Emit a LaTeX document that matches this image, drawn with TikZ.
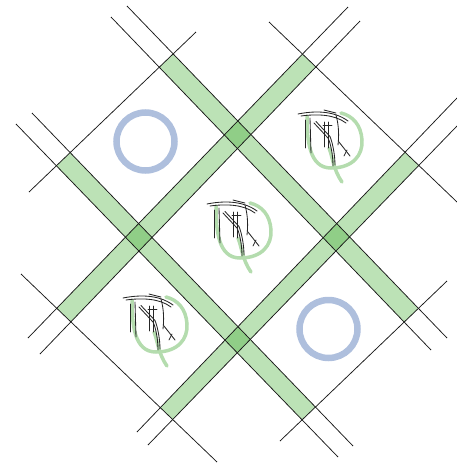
\documentclass[tikz,border=0pt]{standalone}
\definecolor{bandgreen}{HTML}{BCE2B6}
\definecolor{crossgreen}{HTML}{90CE87}
\definecolor{ringblue}{HTML}{AEBFDD}
\definecolor{leafgreen}{HTML}{B4DCAE}
\begin{document}
\begin{tikzpicture}[x=1pt,y=-1pt,
  edge/.style={draw=black!90, line width=0.75pt},
  bandfill/.style={fill=bandgreen},
  crossfill/.style={fill=crossgreen},
  ring/.style={draw=ringblue, line width=6.5pt},
  leaf/.style={draw=leafgreen, line width=3.5pt, line cap=round},
  scrib/.style={draw=black!85, line width=0.85pt, line cap=round},
  xmark/.pic={
    \draw[leaf] (9,2) .. controls (9,26) and (11,54) .. (33,54)
                .. controls (55,54) and (65,41) .. (64,26)
                .. controls (63,11) and (55,2) .. (43,-1);
    \draw[leaf] (31,34) .. controls (35,44) and (35,55) .. (44,68);
    \draw[scrib] (0,0) .. controls (15,-3) and (35,-4) .. (50,7);
    \draw[scrib] (3,2) .. controls (18,0) and (36,0) .. (48,9);
    \draw[scrib] (26,-4) -- (38,-1);
    \draw[scrib] (7,6) -- (7,34);
    \draw[scrib] (12,4) -- (13,39);
    \draw[scrib] (26,8) -- (26,33);
    \draw[scrib] (30,8) -- (30,34);
    \draw[scrib] (38,1) .. controls (41,12) and (41,22) .. (40,31);
    \draw[scrib] (16,9) -- (30,24) .. controls (33,30) and (35,42) .. (35,52);
    \draw[scrib] (18,7.5) -- (32,22.5) .. controls (35,30) and (37,42) .. (37,51);
    \draw[scrib] (25,11) -- (34,11);
    \draw[scrib] (41,28) -- (52,42);
    \draw[scrib] (46,42) -- (49,36);
  }]
\useasboundingbox (0,0) rectangle (457,464);
% band edge lines
\coordinate (e1a1) at (127,6);   \coordinate (e1a2) at (447,338);
\coordinate (e1b1) at (111,17);  \coordinate (e1b2) at (431,350);
\coordinate (e2a1) at (32,113);  \coordinate (e2a2) at (353,446);
\coordinate (e2b1) at (16,124);  \coordinate (e2b2) at (338,457);
\coordinate (f1a1) at (348,7);   \coordinate (f1a2) at (28,338);
\coordinate (f1b1) at (360,21);  \coordinate (f1b2) at (40,354);
\coordinate (f2a1) at (457,98);  \coordinate (f2a2) at (137,432);
\coordinate (f2b1) at (457,126); \coordinate (f2b2) at (148,445);
% outer borders
\coordinate (tl1) at (196,32);   \coordinate (tl2) at (29,192);
\coordinate (tr1) at (269,22);   \coordinate (tr2) at (457,202);
\coordinate (bl1) at (21,274);   \coordinate (bl2) at (217,462);
\coordinate (br1) at (447,281);  \coordinate (br2) at (280,441);
% band ends
\coordinate (e1aS) at (intersection of e1a1--e1a2 and tl1--tl2);
\coordinate (e1bS) at (intersection of e1b1--e1b2 and tl1--tl2);
\coordinate (e1aE) at (intersection of e1a1--e1a2 and br1--br2);
\coordinate (e1bE) at (intersection of e1b1--e1b2 and br1--br2);
\coordinate (e2aS) at (intersection of e2a1--e2a2 and tl1--tl2);
\coordinate (e2bS) at (intersection of e2b1--e2b2 and tl1--tl2);
\coordinate (e2aE) at (intersection of e2a1--e2a2 and br1--br2);
\coordinate (e2bE) at (intersection of e2b1--e2b2 and br1--br2);
\coordinate (f1aS) at (intersection of f1a1--f1a2 and tr1--tr2);
\coordinate (f1bS) at (intersection of f1b1--f1b2 and tr1--tr2);
\coordinate (f1aE) at (intersection of f1a1--f1a2 and bl1--bl2);
\coordinate (f1bE) at (intersection of f1b1--f1b2 and bl1--bl2);
\coordinate (f2aS) at (intersection of f2a1--f2a2 and tr1--tr2);
\coordinate (f2bS) at (intersection of f2b1--f2b2 and tr1--tr2);
\coordinate (f2aE) at (intersection of f2a1--f2a2 and bl1--bl2);
\coordinate (f2bE) at (intersection of f2b1--f2b2 and bl1--bl2);
% band fills
\fill[bandfill] (e1aS) -- (e1aE) -- (e1bE) -- (e1bS) -- cycle;
\fill[bandfill] (e2aS) -- (e2aE) -- (e2bE) -- (e2bS) -- cycle;
\fill[bandfill] (f1aS) -- (f1aE) -- (f1bE) -- (f1bS) -- cycle;
\fill[bandfill] (f2aS) -- (f2aE) -- (f2bE) -- (f2bS) -- cycle;
% crossing squares
\foreach \e in {e1,e2}{
  \foreach \f in {f1,f2}{
    \fill[crossfill]
      (intersection of \e a1--\e a2 and \f a1--\f a2) --
      (intersection of \e a1--\e a2 and \f b1--\f b2) --
      (intersection of \e b1--\e b2 and \f b1--\f b2) --
      (intersection of \e b1--\e b2 and \f a1--\f a2) -- cycle;
  }
}
% lines
\foreach \l in {e1a,e1b,e2a,e2b,f1a,f1b,f2a,f2b,tl,tr,bl,br}{
  \draw[edge] (\l1) -- (\l2);
}
% O marks
\draw[ring] (145.5,141.5) circle[radius=29pt];
\draw[ring] (328.5,329) circle[radius=29pt];
% X marks
\pic at (207,204) {xmark};
\pic at (298,114) {xmark};
\pic at (123,298) {xmark};
\end{tikzpicture}
\end{document}
